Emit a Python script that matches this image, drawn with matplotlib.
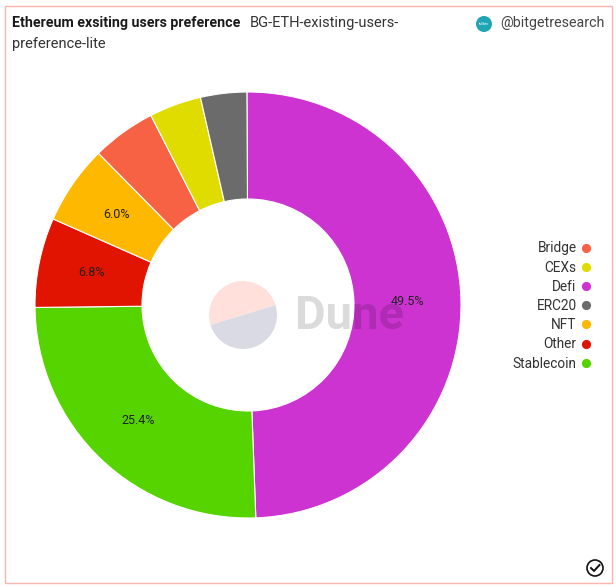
import matplotlib
matplotlib.use("Agg")
import matplotlib.pyplot as plt
from matplotlib.lines import Line2D
from matplotlib.patches import Circle, Rectangle, Wedge

plt.rcParams['font.family'] = ['Roboto', 'DejaVu Sans']

# values clockwise from 12 o'clock
categories = ['Defi', 'Stablecoin', 'Other', 'NFT', 'Bridge', 'CEXs', 'ERC20']
shares = [49.5, 25.4, 6.8, 6.0, 4.85, 3.95, 3.5]
colors = ['#CC33D1', '#55D400', '#E01400', '#FFB800', '#F76245', '#E0DC00', '#6B6B6B']

# legend is alphabetical
legend_order = ['Bridge', 'CEXs', 'Defi', 'ERC20', 'NFT', 'Other', 'Stablecoin']

W, H = 616, 587


def py(y):
    # reference pixel row to axis y
    return H - y


fig = plt.figure(figsize=(W / 100, H / 100), dpi=100)
ax = fig.add_axes([0, 0, 1, 1])

# card border
ax.add_patch(Rectangle((4.5, py(582.5)), 607, 577, fill=False, edgecolor='#FFB5AE', linewidth=1))

wedges, texts, autotexts = ax.pie(
    shares,
    colors=colors,
    startangle=90.3,
    counterclock=False,
    radius=213,
    center=(248, py(305)),
    frame=True,
    autopct=lambda p: f'{p:.1f}%' if p > 5.5 else '',
    pctdistance=0.75,
    wedgeprops={'width': 107, 'edgecolor': 'white', 'linewidth': 0.8},
    textprops={'fontsize': 9, 'color': '#222222'},
)

ax.set_xlim(0, W)
ax.set_ylim(0, H)
ax.axis('off')

# Dune watermark
wm_center = (243, py(315))
ax.add_patch(Wedge(wm_center, 34, 17, 197, facecolor='#FFE0DB', edgecolor='none', zorder=5))
ax.add_patch(Wedge(wm_center, 34, 197, 377, facecolor='#DADAE4', edgecolor='none', zorder=5))
ax.text(295, py(316), 'Dune', fontsize=34, fontweight='bold', color='#000000', alpha=0.14,
        ha='left', va='center', zorder=6)

# header
ax.text(12, py(23), 'Ethereum exsiting users preference', fontsize=10.2, fontweight='bold',
        color='#1a1a1a', ha='left', va='center')
ax.text(250, py(23), 'BG-ETH-existing-users-', fontsize=10.5, color='#333333', ha='left', va='center')
ax.text(12, py(44), 'preference-lite', fontsize=10.5, color='#333333', ha='left', va='center')

ax.add_patch(Circle((484, py(24)), 8, facecolor='#1FA5B5', edgecolor='none'))
ax.text(484, py(24), 'fullbtn', fontsize=2.5, color='white', ha='center', va='center')
ax.text(500, py(23), '@bitgetresearch', fontsize=10.3, color='#444444', ha='left', va='center')

# legend with the marker to the right of the label
color_of = dict(zip(categories, colors))
handles = [Line2D([], [], linestyle='none', marker='o', markersize=6.6, markeredgecolor='none',
                  markerfacecolor=color_of[name], label=name) for name in legend_order]
leg = ax.legend(handles=handles, loc='center right', bbox_to_anchor=(597 / W, 1 - 306 / H),
                frameon=False, markerfirst=False, fontsize=9.8, labelspacing=0.38,
                handletextpad=-0.1, handlelength=1.6, borderaxespad=0, borderpad=0, alignment='right')
for t in leg.get_texts():
    t.set_color('#333333')

# status check icon
ax.add_patch(Circle((595, py(568)), 8, fill=False, edgecolor='#111111', linewidth=1.2))
ax.plot([591, 594, 599.5], [py(568), py(571), py(565)], color='#111111', linewidth=1.4)

fig.savefig('out.png', dpi=100)
